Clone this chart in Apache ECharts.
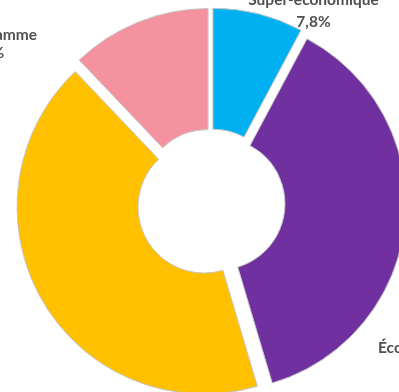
<!DOCTYPE html>
<html>
<head>
<meta charset="utf-8">
<script src="https://cdn.jsdelivr.net/npm/echarts@6/dist/echarts.min.js"></script>
<style>
  html, body { margin: 0; padding: 0; background: #fff; }
  #chart { width: 399px; height: 392px; }
</style>
</head>
<body>
<div id="chart"></div>
<script>
// Répartition de l'offre par catégorie (%)
const categories = ['Super-économique', 'Économique', 'Milieu de gamme', 'Haut de gamme'];
const shares = [7.8, 37.6, 42.5, 12.1];
const colors = ['#00B0F0', '#7030A0', '#FFC000', '#F5929F'];

const FONT = 'bold 15.5px Lato';
const TEXT_COLOR = '#505050';

const fmt = v => v.toFixed(1).replace('.', ',') + '%';

// measure text widths so the two label lines stay centred on each other
const ctx = document.createElement('canvas').getContext('2d');
ctx.font = FONT;
const textWidth = s => ctx.measureText(s).width;

// label placement: [anchor x, anchor kind, name line y, value line y]
// anchor kind: 'c' = centre of block, 'r' = right edge of name, 'l' = left edge of name
const labelPlacement = {
  0: [313.5, 'c', 0, 21.5],
  3: [37, 'r', 34.5, 53],
  1: [378, 'l', 347.5, 368]
};

const graphics = [];
Object.keys(labelPlacement).forEach(k => {
  const i = +k;
  const [ax, kind, y1, y2] = labelPlacement[i];
  const name = categories[i];
  const w = textWidth(name);
  let cx = ax;
  if (kind === 'r') cx = ax - w / 2;
  if (kind === 'l') cx = ax + w / 2;
  [[name, y1], [fmt(shares[i]), y2]].forEach(([txt, y]) => {
    graphics.push({
      type: 'text',
      x: cx,
      y: y,
      silent: true,
      style: {
        text: txt,
        fill: TEXT_COLOR,
        font: FONT,
        align: 'center',
        verticalAlign: 'middle'
      }
    });
  });
});

const chart = echarts.init(document.getElementById('chart'), null, { renderer: 'canvas' });

const data = categories.map((name, i) => ({
  name,
  value: shares[i],
  selected: true,
  itemStyle: { color: colors[i] },
  select: { itemStyle: { color: colors[i], borderColor: '#c6c6c6', borderWidth: 1 } }
}));

chart.setOption({
  animation: false,
  graphic: graphics,
  series: [{
    type: 'pie',
    center: [211, 203],
    radius: [66, 187],
    startAngle: 90,
    clockwise: true,
    selectedMode: 'multiple',
    selectedOffset: 8,
    itemStyle: { borderColor: '#c6c6c6', borderWidth: 1 },
    label: { show: false },
    labelLine: { show: false },
    emphasis: { disabled: true },
    data
  }]
});
</script>
</body>
</html>
